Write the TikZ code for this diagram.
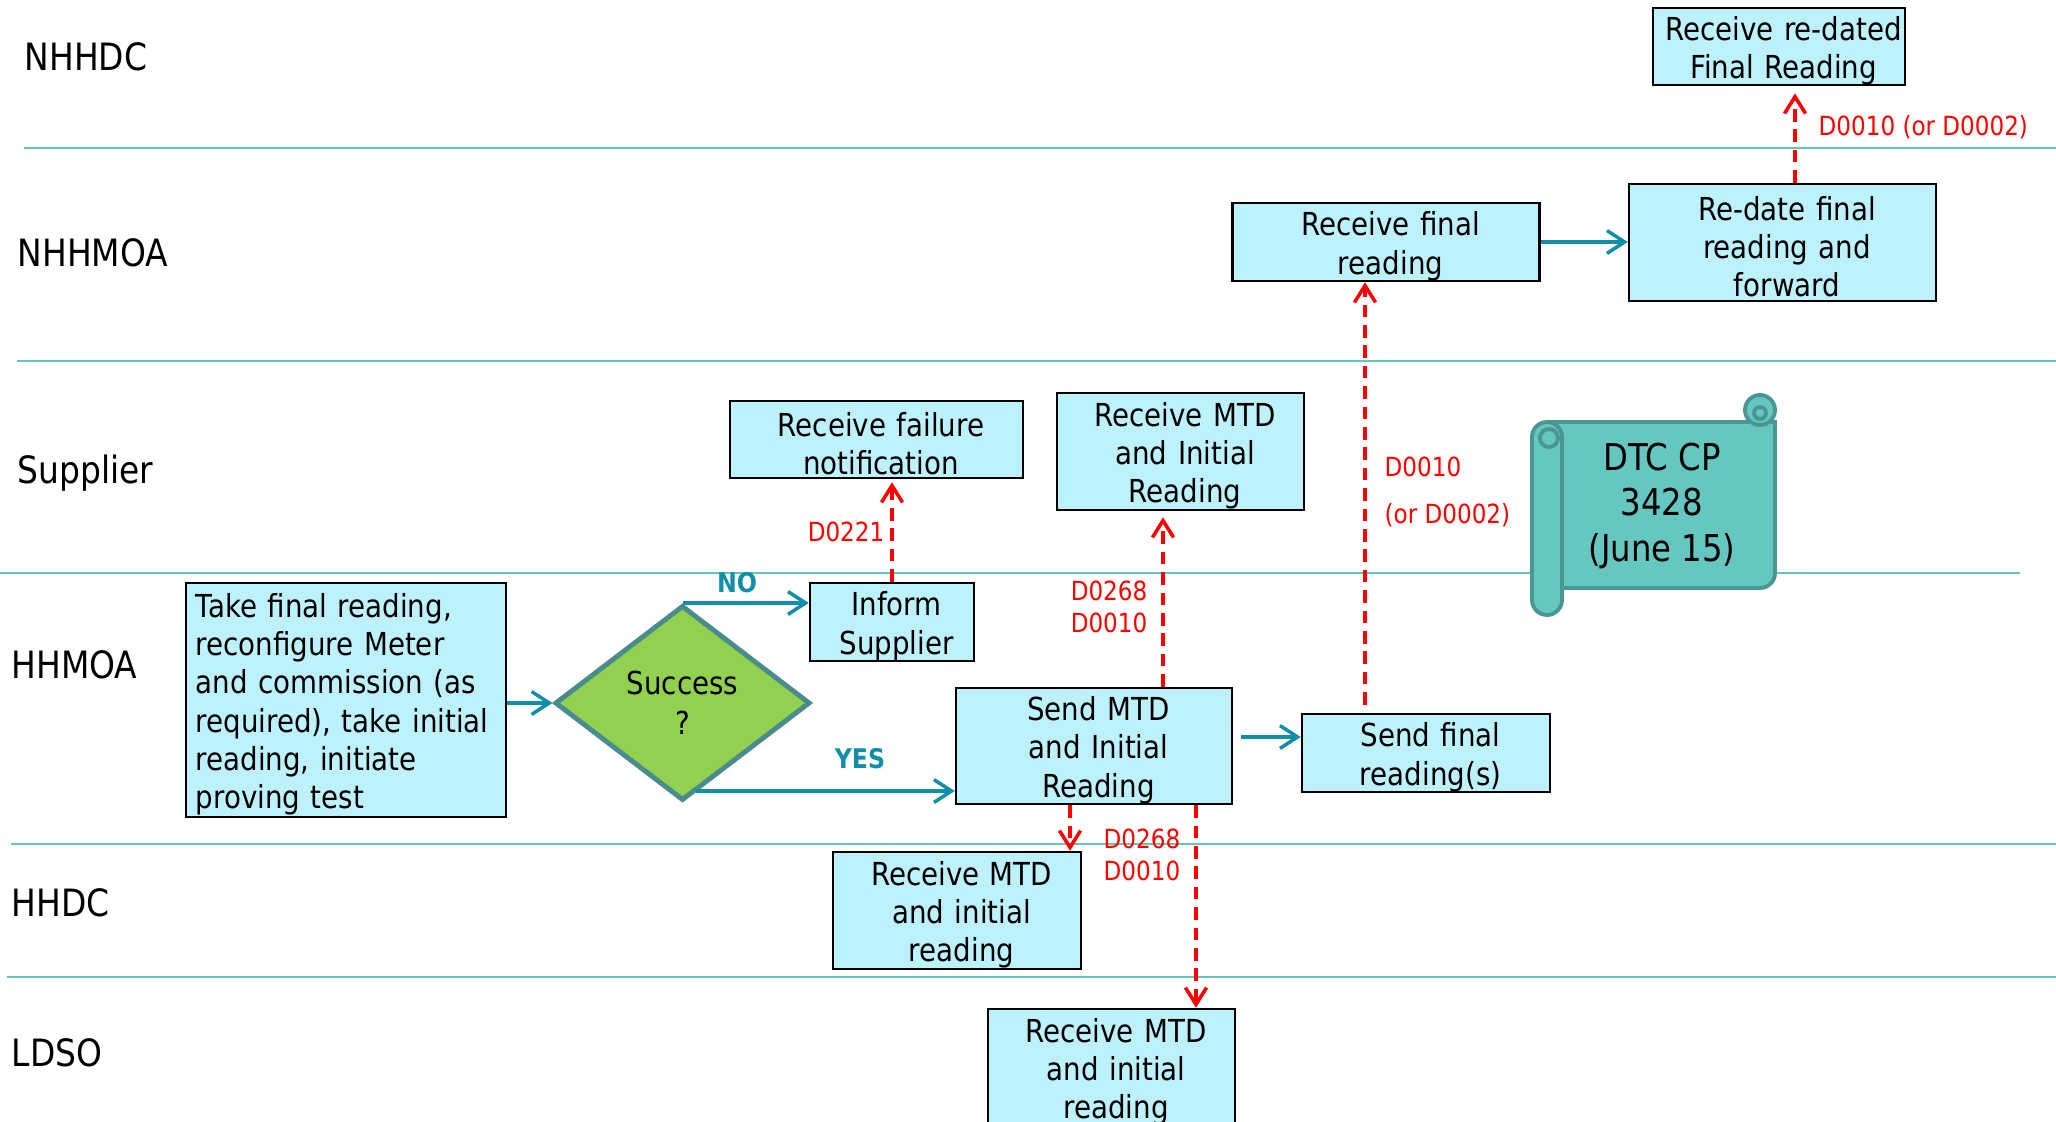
\documentclass[tikz,border=0pt]{standalone}
\usepackage{fontspec}
\setmainfont{DejaVu Sans}[FakeStretch=0.875]
\usetikzlibrary{calc,shapes.geometric,arrows.meta}
\definecolor{lanecol}{RGB}{100,196,190}
\definecolor{boxfill}{RGB}{189,242,253}
\definecolor{flowcol}{RGB}{18,143,168}
\definecolor{diafill}{RGB}{146,208,80}
\definecolor{diadraw}{RGB}{74,140,140}
\definecolor{scrollfill}{RGB}{102,199,192}
\definecolor{scrolldraw}{RGB}{74,150,145}

\begin{document}
\begin{tikzpicture}[x=0.01cm,y=-0.01cm,
  lane line/.style={lanecol,line width=0.7pt},
  lane name/.style={anchor=base west,inner sep=0pt,font=\fontsize{10.7}{12}\selectfont},
  box size/.style 2 args={minimum width=#1*0.01cm,minimum height=#2*0.01cm,text width=#1*0.01cm-0.04cm},
  task box/.style={draw,fill=boxfill,line width=0.7pt,inner sep=0pt,align=center,
    font=\fontsize{9}{10.9}\selectfont,execute at begin node={\rule{0pt}{9.2pt}\advance\leftskip by 2.6pt}},
  decision/.style={diamond,draw=diadraw,fill=diafill,line width=1.4pt,inner sep=0pt,aspect=1.31,
    minimum width=2.55cm,minimum height=1.95cm,align=center,font=\fontsize{9}{11.4}\selectfont},
  flow/.style={flowcol,line width=1pt,-{Straight Barb[length=5pt,width=6.5pt]}},
  msg/.style={red,line width=1pt,dash pattern=on 3.6pt off 2.2pt,-{Straight Barb[length=4.8pt,width=6pt]}},
  msg label/.style={red,inner sep=0pt,font=\fontsize{7.5}{9.2}\selectfont},
  branch label/.style={flowcol,inner sep=0pt,font=\bfseries\fontsize{7.7}{9}\selectfont},
  scroll shape/.style={fill=scrollfill,draw=scrolldraw,line width=1.1pt},
  ]
  \useasboundingbox (0,0) rectangle (2056,1122);

  % swim lanes
  \draw[lane line] (24,148) -- (2056,148);
  \draw[lane line] (17,361) -- (2056,361);
  \draw[lane line] (0,573) -- (2020,573);
  \draw[lane line] (11,844) -- (2056,844);
  \draw[lane line] (7,977) -- (2056,977);

  \node[lane name] (lane-nhhdc) at (24,71) {NHHDC};
  \node[lane name] (lane-nhhmoa) at (17,267) {NHHMOA};
  \node[lane name] (lane-supplier) at (17,484) {Supplier};
  \node[lane name] (lane-hhmoa) at (11,679) {HHMOA};
  \node[lane name] (lane-hhdc) at (11,917) {HHDC};
  \node[lane name] (lane-ldso) at (11,1067) {LDSO};

  % tasks
  \node[task box,box size={252}{77}] (nhhdc-redated) at (1779,46.5) {Receive re-dated\\Final Reading};
  \node[task box,box size={307}{78}] (nhhmoa-recv) at (1386,242) {Receive final\\reading};
  \node[task box,box size={307}{117}] (nhhmoa-redate) at (1782.5,242.5) {Re-date final\\reading and\\forward};
  \node[task box,box size={293}{77}] (sup-fail) at (876.5,439.5) {Receive failure\\notification};
  \node[task box,box size={247}{117}] (sup-mtd) at (1180.5,451.5) {Receive MTD\\and Initial\\Reading};
  \node[task box,box size={164}{78}] (hhmoa-inform) at (892,622) {Inform\\Supplier};
  \node[task box,box size={320}{234},align=left,text width=3.06cm,
    execute at begin node={\advance\leftskip by -1.8pt}] (hhmoa-take) at (346,700)
    {Take final reading,\\reconfigure Meter\\and commission (as\\required), take initial\\reading, initiate\\proving test};
  \node[decision] (hhmoa-success) at (682.5,703) {Success\\?};
  \node[task box,box size={276}{116}] (hhmoa-sendmtd) at (1094,746) {Send MTD\\and Initial\\Reading};
  \node[task box,box size={248}{78}] (hhmoa-sendfin) at (1426,753) {Send final\\reading(s)};
  \node[task box,box size={248}{117}] (hhdc-mtd) at (957,910.5) {Receive MTD\\and initial\\reading};
  \node[task box,box size={247}{117}] (ldso-mtd) at (1111.5,1067.5) {Receive MTD\\and initial\\reading};

  % process flow
  \draw[flow] (hhmoa-take.east |- hhmoa-success.west) -- (hhmoa-success.west);
  \draw[flow] (hhmoa-success.north) -- (hhmoa-success.north -| hhmoa-inform.west);
  \coordinate (yes-start) at ($(hhmoa-success.south)+(13,-12)$);
  \draw[flow] (yes-start) -- (yes-start -| hhmoa-sendmtd.west);
  \coordinate (fin-start) at ($(hhmoa-sendmtd.east)+(0,-9)$);
  \draw[flow,shorten <=0.08cm] (fin-start) -- (fin-start -| hhmoa-sendfin.west);
  \draw[flow] (nhhmoa-recv.east) -- (nhhmoa-recv.east -| nhhmoa-redate.west);

  \node[branch label] (lbl-no) at (737,583) {NO};
  \node[branch label] (lbl-yes) at (860,759) {YES};

  % data flows
  \draw[msg,shorten >=0.03cm] (hhmoa-inform.north) -- (hhmoa-inform.north |- sup-fail.south);
  \coordinate (mtd-up) at ($(hhmoa-sendmtd.north)+(69,0)$);
  \draw[msg,shorten >=0.06cm] (mtd-up) -- (mtd-up |- sup-mtd.south);
  \coordinate (fin-up) at ($(hhmoa-sendfin.north)+(-61,-8)$);
  \draw[msg] (fin-up) -- (fin-up |- nhhmoa-recv.south);
  \coordinate (redate-up) at ($(nhhmoa-redate.north)+(12.5,0)$);
  \draw[msg,shorten >=0.07cm] (redate-up) -- (redate-up |- nhhdc-redated.south);
  \coordinate (mtd-down) at ($(hhmoa-sendmtd.south)+(-24,0)$);
  \draw[msg] (mtd-down) -- (mtd-down |- hhdc-mtd.north);
  \coordinate (ldso-down) at ($(hhmoa-sendmtd.south)+(102,0)$);
  \draw[msg] (ldso-down) -- (ldso-down |- ldso-mtd.north);

  \node[msg label,anchor=east] (lbl-d0221) at (885,532) {D0221};
  \node[msg label,anchor=east,align=right] (lbl-supmtd) at (1148,607) {D0268\\D0010};
  \node[msg label,anchor=west] (lbl-fin-a) at (1384,467) {D0010};
  \node[msg label,anchor=west] (lbl-fin-b) at (1384,515) {(or D0002)};
  \node[msg label,anchor=west] (lbl-redate) at (1818,127) {D0010 (or D0002)};
  \node[msg label,anchor=west,align=left] (lbl-hhdc) at (1103,855) {D0268\\D0010};

  % change note
  \filldraw[scroll shape] (1547,422) -- (1775,422) -- (1775,573) arc (0:90:15) -- (1547,588) -- cycle;
  \filldraw[scroll shape] (1760,410) circle[radius=15];
  \draw[scrolldraw,line width=1.1pt] (1760,413) circle[radius=6];
  \filldraw[scroll shape,rounded corners=0.15cm] (1532,422) rectangle (1562,615);
  \draw[scrolldraw,line width=1.1pt] (1549,438) circle[radius=9];
  \node[align=center,font=\fontsize{10.5}{12.8}\selectfont] (dtc-note) at (1662,506) {DTC CP\\3428\\(June 15)};
\end{tikzpicture}
\end{document}
